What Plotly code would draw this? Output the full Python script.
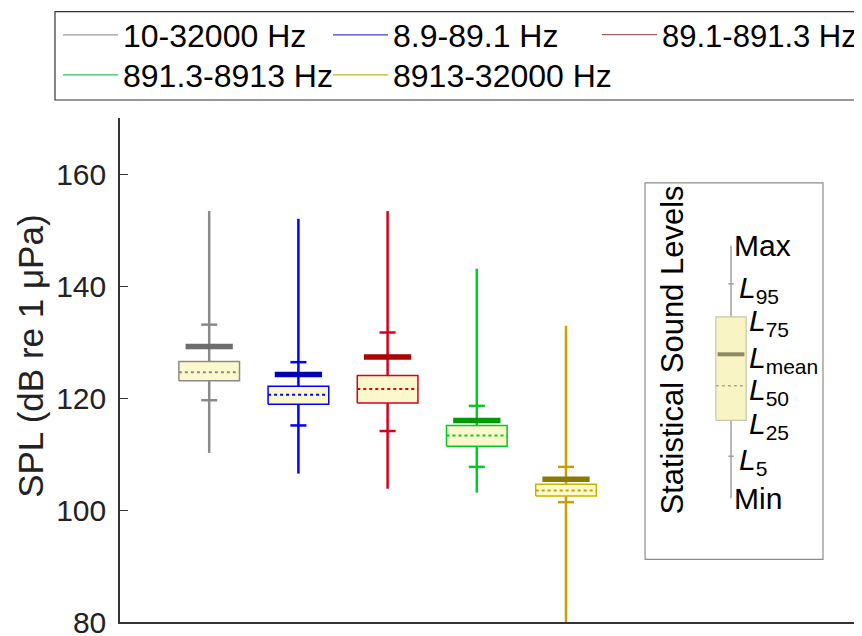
import plotly.graph_objects as go

# ---------------- data ----------------
bands = ["10-32000 Hz", "8.9-89.1 Hz", "89.1-891.3 Hz", "891.3-8913 Hz", "8913-32000 Hz"]
spl_max = [153.4, 152.0, 153.4, 143.1, 132.9]
spl_l95 = [133.1, 126.4, 131.7, 118.6, 107.7]
spl_mean = [129.2, 124.2, 127.3, 116.0, 105.5]
spl_l75 = [126.5, 122.1, 124.0, 115.1, 104.6]
spl_l50 = [124.6, 120.6, 121.6, 113.3, 103.5]
spl_l25 = [123.1, 118.9, 119.1, 111.4, 102.5]
spl_l5 = [119.6, 115.1, 114.1, 107.7, 101.4]
spl_min = [110.2, 106.5, 103.8, 103.1, 76.0]

line_colors = ["#8a8a8a", "#0000ff", "#d8001c", "#00cc22", "#c8a000"]
mean_colors = ["#6e6e6e", "#0000b0", "#b00000", "#009a00", "#8c7a00"]
box_edge_colors = ["#8a8a8a", "#0000ff", "#d8001c", "#00cc22", "#c8b400"]
legend_colors = ["#9a9a9a", "#4040c0", "#a06060", "#30c060", "#b8b820"]
legend_ids = ["legend", "legend2", "legend3", "legend4", "legend5"]

# schematic "Statistical Sound Levels" key
key_names = ["Max", "L95", "L75", "Lmean", "L50", "L25", "L5", "Min"]
key_labels = ["Max", "<i>L</i><sub>95</sub>", "<i>L</i><sub>75</sub>", "<i>L</i><sub>mean</sub>",
              "<i>L</i><sub>50</sub>", "<i>L</i><sub>25</sub>", "<i>L</i><sub>5</sub>", "Min"]
key_values = [147.2, 140.4, 134.5, 127.8, 122.2, 116.0, 109.6, 102.1]

y_ticks = [80, 100, 120, 140, 160]

FONT = "Liberation Sans, Arial, sans-serif"

fig = go.Figure()

BOX_HW = 0.34
MEAN_HW = 0.265
TICK_HW = 0.09

for i, name in enumerate(bands):
    xc = i + 1
    c = line_colors[i]
    # whisker
    fig.add_trace(go.Scatter(x=[xc, xc], y=[spl_min[i], spl_max[i]], mode="lines",
                             line=dict(color=c, width=2.5), showlegend=False, hoverinfo="skip"))
    # L5 / L95 ticks
    for v in (spl_l5[i], spl_l95[i]):
        fig.add_trace(go.Scatter(x=[xc - TICK_HW, xc + TICK_HW], y=[v, v], mode="lines",
                                 line=dict(color=c, width=2.5), showlegend=False, hoverinfo="skip"))
    # box
    fig.add_trace(go.Scatter(x=[xc - BOX_HW, xc + BOX_HW, xc + BOX_HW, xc - BOX_HW, xc - BOX_HW],
                             y=[spl_l25[i], spl_l25[i], spl_l75[i], spl_l75[i], spl_l25[i]],
                             mode="lines", fill="toself", fillcolor="#fbf8cc",
                             line=dict(color=box_edge_colors[i], width=1.5),
                             showlegend=False, hoverinfo="skip"))
    # median
    fig.add_trace(go.Scatter(x=[xc - BOX_HW, xc + BOX_HW], y=[spl_l50[i], spl_l50[i]], mode="lines",
                             line=dict(color=c, width=2, dash="dot"), showlegend=False, hoverinfo="skip"))
    # mean
    fig.add_trace(go.Scatter(x=[xc - MEAN_HW, xc + MEAN_HW], y=[spl_mean[i], spl_mean[i]], mode="lines",
                             line=dict(color=mean_colors[i], width=5.5), showlegend=False, hoverinfo="skip"))
    # legend entry
    fig.add_trace(go.Scatter(x=[None], y=[None], mode="lines", name=name,
                             line=dict(color=legend_colors[i], width=1.2),
                             legend=legend_ids[i]))

# ---------------- schematic key ----------------
KX = 6.85
kv = dict(zip(key_names, key_values))
fig.add_trace(go.Scatter(x=[KX, KX], y=[kv["Min"], kv["Max"]], mode="lines",
                         line=dict(color="#a0a0a0", width=1.5), showlegend=False, hoverinfo="skip"))
for nm in ("L95", "L5"):
    fig.add_trace(go.Scatter(x=[KX - 0.03, KX + 0.03], y=[kv[nm], kv[nm]], mode="lines",
                             line=dict(color="#a0a0a0", width=1.5), showlegend=False, hoverinfo="skip"))
fig.add_trace(go.Scatter(x=[KX - 0.17, KX + 0.17, KX + 0.17, KX - 0.17, KX - 0.17],
                         y=[kv["L25"], kv["L25"], kv["L75"], kv["L75"], kv["L25"]],
                         mode="lines", fill="toself", fillcolor="#f8f4c4",
                         line=dict(color="#c8c8a8", width=1.2), showlegend=False, hoverinfo="skip"))
fig.add_trace(go.Scatter(x=[KX - 0.17, KX + 0.17], y=[kv["L50"], kv["L50"]], mode="lines",
                         line=dict(color="#a8a890", width=1.5, dash="dot"), showlegend=False, hoverinfo="skip"))
fig.add_trace(go.Scatter(x=[KX - 0.15, KX + 0.15], y=[kv["Lmean"], kv["Lmean"]], mode="lines",
                         line=dict(color="#8a8a60", width=4), showlegend=False, hoverinfo="skip"))

label_dx = {"Max": 0.04, "L95": 0.1, "L75": 0.21, "Lmean": 0.21, "L50": 0.21, "L25": 0.21, "L5": 0.1, "Min": 0.04}
annotations = []
for nm, lab, v in zip(key_names, key_labels, key_values):
    sub = lab.startswith("<i>")
    annotations.append(dict(x=KX + label_dx[nm], y=v, xref="x", yref="y", text=lab, showarrow=False,
                            xanchor="left", yanchor="top" if sub else "middle",
                            yshift=15 if sub else 0, xshift=-3,
                            font=dict(family=FONT, size=30, color="#000")))
annotations.append(dict(x=6.19, y=128.5, xref="x", yref="y", text="Statistical Sound Levels",
                        textangle=-90, showarrow=False, xanchor="center", yanchor="middle",
                        font=dict(family=FONT, size=31, color="#000")))
# y-axis title
annotations.append(dict(x=-0.1187, y=0.528, xref="paper", yref="paper", text="SPL (dB re 1 μPa)",
                        textangle=-90, showarrow=False, xanchor="center", yanchor="middle",
                        font=dict(family=FONT, size=35, color="#222")))

shapes = [
    # key frame
    dict(type="rect", xref="x", yref="y", x0=5.886, x1=7.881, y0=91.2, y1=158.4,
         line=dict(color="#8c8c8c", width=1.2), fillcolor="rgba(0,0,0,0)", layer="below"),
    # legend frame
    dict(type="rect", xref="paper", yref="paper", x0=-0.0867, x1=1.05, y0=1.0357, y1=1.211,
         line=dict(color="#333", width=1.2), fillcolor="rgba(0,0,0,0)"),
]

leg_common = dict(orientation="h", xref="container", yref="container", xanchor="left",
                  yanchor="middle", itemwidth=55, bgcolor="rgba(0,0,0,0)", borderwidth=0)
leg_font = dict(family=FONT, size=32, color="#000")

fig.update_layout(
    width=862, height=636,
    margin=dict(l=112, r=0, t=110, b=22),
    paper_bgcolor="white", plot_bgcolor="white",
    font=dict(family=FONT, size=30, color="#000"),
    showlegend=True,
    legend=dict(x=50 / 862, y=1 - 27 / 636, font=leg_font, **leg_common),
    legend2=dict(x=320 / 862, y=1 - 27 / 636, font=leg_font, **leg_common),
    legend3=dict(x=589 / 862, y=1 - 27 / 636, font=dict(family=FONT, size=31, color="#000"), **leg_common),
    legend4=dict(x=50 / 862, y=1 - 67 / 636, font=leg_font, **leg_common),
    legend5=dict(x=320 / 862, y=1 - 67 / 636, font=leg_font, **leg_common),
    xaxis=dict(range=[0, 8.408], showticklabels=False, ticks="", showgrid=False, zeroline=False,
               showline=True, linecolor="#333", linewidth=1.5, mirror=False),
    yaxis=dict(range=[80, 170], tickvals=y_ticks, ticktext=[str(t) for t in y_ticks],
               ticks="inside", ticklen=8, tickcolor="#333", showgrid=False, zeroline=False,
               showline=True, linecolor="#333", linewidth=1.5, ticklabelstandoff=6,
               tickfont=dict(family=FONT, size=30, color="#222")),
    annotations=annotations,
    shapes=shapes,
)

fig.write_html("out.html")
